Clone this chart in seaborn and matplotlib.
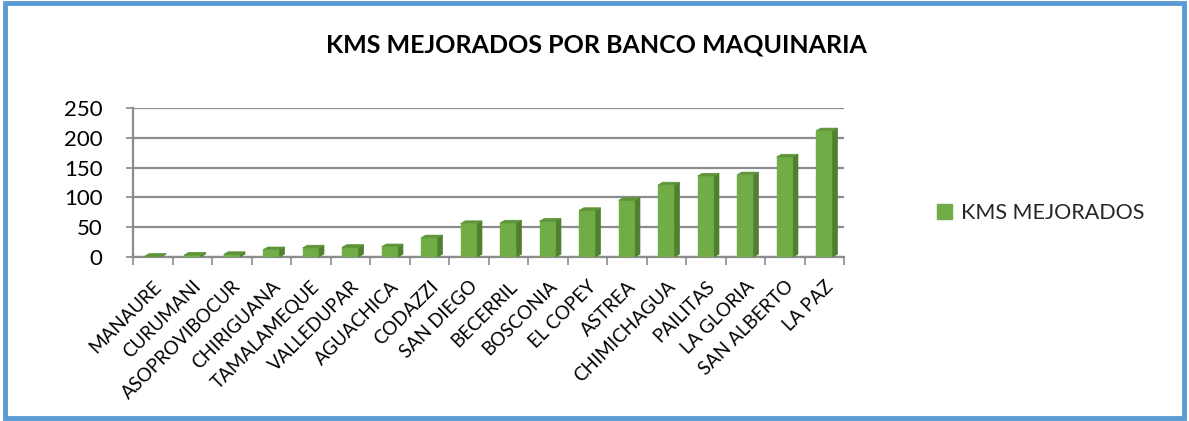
import matplotlib
matplotlib.use("Agg")
import matplotlib.pyplot as plt
import seaborn as sns
import pandas as pd
import numpy as np
from matplotlib.patches import Polygon, FancyBboxPatch, Patch

municipios = ["MANAURE", "CURUMANI", "ASOPROVIBOCUR", "CHIRIGUANA", "TAMALAMEQUE",
              "VALLEDUPAR", "AGUACHICA", "CODAZZI", "SAN DIEGO", "BECERRIL",
              "BOSCONIA", "EL COPEY", "ASTREA", "CHIMICHAGUA", "PAILITAS",
              "LA GLORIA", "SAN ALBERTO", "LA PAZ"]
kms = [1, 3, 4, 12, 15, 16, 17, 32, 56, 57, 60, 78, 95, 121, 136, 138, 168, 212]
y_ticks = [0, 50, 100, 150, 200, 250]
title = "KMS MEJORADOS POR BANCO MAQUINARIA"
series_name = "KMS MEJORADOS"

df = pd.DataFrame({"municipio": municipios, "kms": kms})

sns.set_theme(style="white")
plt.rcParams["font.family"] = ["Lato", "DejaVu Sans"]

fig = plt.figure(figsize=(11.89, 4.21), dpi=100)
ax = fig.add_axes([0.112, 0.39, 0.598, 0.353])

face = "#70ad47"
side = "#4f7f2f"
top = "#5e9438"
sns.barplot(data=df, x="municipio", y="kms", color=face, width=0.42,
            saturation=1, ax=ax, zorder=3, edgecolor=face)

# pseudo-3D faces derived from bar patches
dx, dy = 0.12, 4.5
for p in ax.patches:
    x0, w, h = p.get_x(), p.get_width(), p.get_height()
    x1 = x0 + w
    ax.add_patch(Polygon([(x1, 0), (x1 + dx, dy), (x1 + dx, h + dy), (x1, h)],
                         closed=True, facecolor=side, edgecolor=side, lw=0.5, zorder=3))
    ax.add_patch(Polygon([(x0, h), (x0 + dx, h + dy), (x1 + dx, h + dy), (x1, h)],
                         closed=True, facecolor=top, edgecolor=top, lw=0.5, zorder=3))

n = len(municipios)
ax.set_ylim(0, 250)
ax.set_xlim(-0.5, n - 0.5)
ax.set_yticks(y_ticks)
ax.set_yticklabels([str(v) for v in y_ticks], fontsize=16, color="black")
ax.yaxis.grid(True, color="#8c8c8c", lw=1.6, zorder=0)
ax.xaxis.grid(False)
ax.set_xticks(range(n))
ax.set_xticklabels(municipios, rotation=45, ha="right", rotation_mode="anchor",
                   fontsize=13.5, color="black")
ax.set_xticks(np.arange(n + 1) - 0.5, minor=True)
ax.tick_params(axis="x", which="major", length=0, pad=15)
ax.tick_params(axis="x", which="minor", length=6, color="#8c8c8c", width=1.2, bottom=True)
ax.tick_params(axis="y", length=5, color="#8c8c8c", left=True, pad=17)
for s in ["top", "right"]:
    ax.spines[s].set_visible(False)
ax.spines["left"].set_color("#8c8c8c")
ax.spines["left"].set_linewidth(1.6)
ax.spines["bottom"].set_color("#8c8c8c")
ax.spines["bottom"].set_linewidth(1.6)
ax.set_xlabel("")
ax.set_ylabel("")
ax.set_axisbelow(True)

fig.text(0.502, 0.893, title, ha="center", va="center", fontsize=18,
         fontweight="bold", color="black")

leg = ax.legend(handles=[Patch(facecolor=face, edgecolor=face, label=series_name)],
                loc="center left", bbox_to_anchor=(0.772, 0.495),
                bbox_transform=fig.transFigure, frameon=False, fontsize=15.5,
                handlelength=0.7, handleheight=0.7, handletextpad=0.4)

border = FancyBboxPatch((0.004, 0.008), 0.992, 0.984, boxstyle="square,pad=0",
                        transform=fig.transFigure, fill=False,
                        edgecolor="#5b9bd5", lw=3.5)
fig.patches.append(border)

fig.savefig("out.png", dpi=100)
